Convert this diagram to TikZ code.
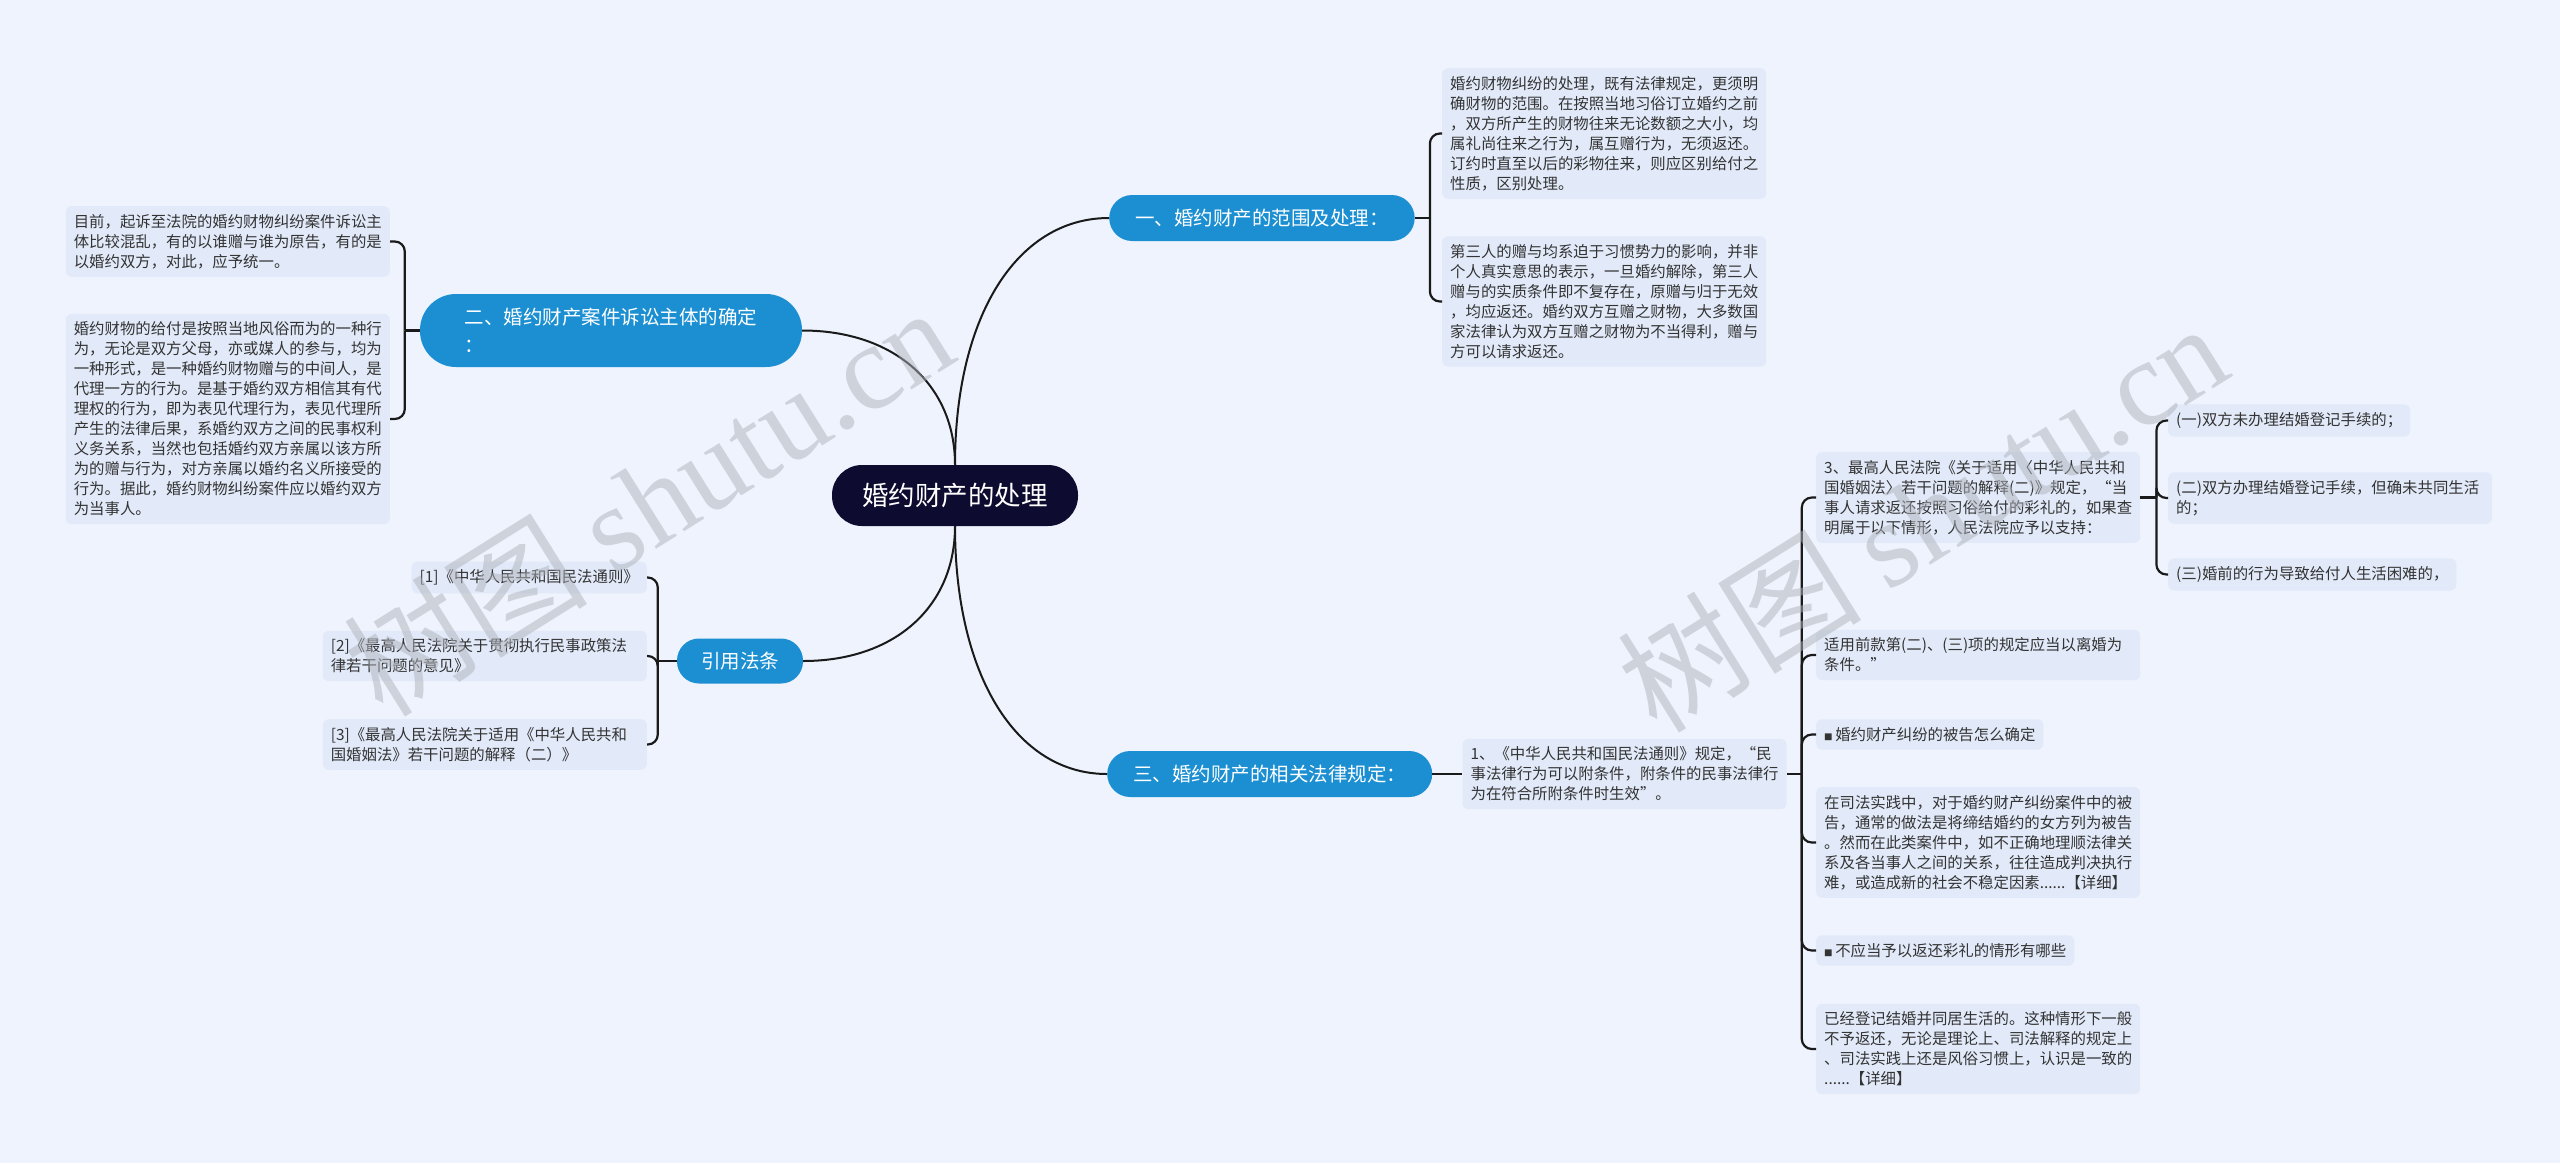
\documentclass[tikz,border=0pt]{standalone}
\usepackage{fontspec}
\setmainfont{Noto Sans CJK SC}
\newfontfamily\marklatin{Liberation Serif}
\usetikzlibrary{positioning,calc}
\definecolor{PageBlue}{HTML}{EEF3FD}
\definecolor{LeafFill}{HTML}{E2EAF9}
\definecolor{BranchBlue}{HTML}{1B8FD2}
\definecolor{RootNavy}{HTML}{0D0B2F}
\definecolor{LeafText}{HTML}{333333}
\definecolor{LinkBlack}{HTML}{1A1A1A}
\definecolor{MarkGrey}{HTML}{AEB2BA}

\tikzset{
  rootnode/.style={fill=RootNavy,text=white,rounded corners=30pt,minimum width=246pt,minimum height=61pt,font=\fontsize{26.5}{30}\selectfont},
  branchnode/.style={fill=BranchBlue,text=white,rounded corners=23pt,minimum height=46pt,inner xsep=26pt,font=\fontsize{19.5}{28}\selectfont},
  leafnode/.style={fill=LeafFill,text=LeafText,rounded corners=6pt,inner xsep=8pt,inner ysep=8pt,align=left,font=\fontsize{15.4}{20}\selectfont},
  wrapleaf/.style={leafnode,text width=308pt},
  linkline/.style={LinkBlack,line width=2.2pt},
  bracket/.style={linkline,rounded corners=10pt},
  rootlink/.style={LinkBlack,line width=2pt},
  watermark/.style={text=MarkGrey,opacity=0.5,rotate=32,font=\fontsize{122}{122}\selectfont},
}
\newcommand{\sqmark}{{\fontsize{8.5}{8.5}\selectfont ■}\,}

\begin{document}
\begin{tikzpicture}[x=1pt,y=-1pt]
  \path[use as bounding box,fill=PageBlue] (0,0) rectangle (2560,1163);

  % centre and main branches
  \node[rootnode] (root) at (955,495.5) {婚约财产的处理};
  \node[branchnode,anchor=west] (b1) at (1109,218) {一、婚约财产的范围及处理：};
  \node[branchnode,align=left,minimum width=382pt,minimum height=73pt,rounded corners=36pt] (b2) at (611,330.5) {二、婚约财产案件诉讼主体的确定\\：};
  \node[branchnode,minimum width=126pt,minimum height=45pt,rounded corners=22pt,inner xsep=10pt] (b3) at (740,661) {引用法条};
  \node[branchnode,anchor=west] (b4) at (1107,774) {三、婚约财产的相关法律规定：};

  \draw[rootlink] (root.north) .. controls ($(root.north)!0.6!(root.north |- b1.west)$) and ($(b1.west)!0.6!(b1.west -| root.north)$) .. (b1.west);
  \draw[rootlink] (root.north) .. controls ($(root.north)!0.6!(root.north |- b2.east)$) and ($(b2.east)!0.6!(b2.east -| root.north)$) .. (b2.east);
  \draw[rootlink] (root.south) .. controls ($(root.south)!0.6!(root.south |- b3.east)$) and ($(b3.east)!0.6!(b3.east -| root.south)$) .. (b3.east);
  \draw[rootlink] (root.south) .. controls ($(root.south)!0.6!(root.south |- b4.west)$) and ($(b4.west)!0.6!(b4.west -| root.south)$) .. (b4.west);

  % branch one
  \node[wrapleaf,anchor=west] (l11) at (1442,133.5) {婚约财物纠纷的处理，既有法律规定，更须明\\确财物的范围。在按照当地习俗订立婚约之前\\，双方所产生的财物往来无论数额之大小，均\\属礼尚往来之行为，属互赠行为，无须返还。\\订约时直至以后的彩物往来，则应区别给付之\\性质，区别处理。};
  \node[wrapleaf,anchor=west] (l12) at (1442,301.5) {第三人的赠与均系迫于习惯势力的影响，并非\\个人真实意思的表示，一旦婚约解除，第三人\\赠与的实质条件即不复存在，原赠与归于无效\\，均应返还。婚约双方互赠之财物，大多数国\\家法律认为双方互赠之财物为不当得利，赠与\\方可以请求返还。};
  \coordinate (j1) at ($(b1.east)+(15,0)$);
  \draw[linkline] (b1.east) -- (j1);
  \foreach \c in {l11,l12} \draw[bracket] (j1) |- (\c.west);

  % branch two
  \node[wrapleaf,anchor=east] (l21) at (390,241.5) {目前，起诉至法院的婚约财物纠纷案件诉讼主\\体比较混乱，有的以谁赠与谁为原告，有的是\\以婚约双方，对此，应予统一。};
  \node[wrapleaf,anchor=east] (l22) at (390,419) {婚约财物的给付是按照当地风俗而为的一种行\\为，无论是双方父母，亦或媒人的参与，均为\\一种形式，是一种婚约财物赠与的中间人，是\\代理一方的行为。是基于婚约双方相信其有代\\理权的行为，即为表见代理行为，表见代理所\\产生的法律后果，系婚约双方之间的民事权利\\义务关系，当然也包括婚约双方亲属以该方所\\为的赠与行为，对方亲属以婚约名义所接受的\\行为。据此，婚约财物纠纷案件应以婚约双方\\为当事人。};
  \coordinate (j2) at ($(b2.west)+(-15,0)$);
  \draw[linkline] (b2.west) -- (j2);
  \foreach \c in {l21,l22} \draw[bracket] (j2) |- (\c.east);

  % cited laws
  \node[leafnode,anchor=east] (l31) at (647,577.5) {[1]《中华人民共和国民法通则》};
  \node[wrapleaf,anchor=east] (l32) at (647,656) {[2]《最高人民法院关于贯彻执行民事政策法\\律若干问题的意见》};
  \node[wrapleaf,anchor=east] (l33) at (647,744.5) {[3]《最高人民法院关于适用《中华人民共和\\国婚姻法》若干问题的解释（二）》};
  \coordinate (j3) at ($(b3.west)+(-19,0)$);
  \draw[linkline] (b3.west) -- (j3);
  \foreach \c in {l31,l32,l33} \draw[bracket] (j3) |- (\c.east);

  % branch three
  \node[wrapleaf,right=30pt of b4] (l41) {1、《中华人民共和国民法通则》规定，“民\\事法律行为可以附条件，附条件的民事法律行\\为在符合所附条件时生效”。};
  \draw[linkline] (b4.east) -- (l41.west);

  \node[wrapleaf,anchor=west] (m1) at (1816,497.5) {3、最高人民法院《关于适用〈中华人民共和\\国婚姻法〉若干问题的解释(二)》规定，“当\\事人请求返还按照习俗给付的彩礼的，如果查\\明属于以下情形，人民法院应予以支持：};
  \node[wrapleaf,anchor=west] (m2) at (1816,655) {适用前款第(二)、(三)项的规定应当以离婚为\\条件。”};
  \node[leafnode,anchor=west] (m3) at (1816,734.5) {\sqmark 婚约财产纠纷的被告怎么确定};
  \node[wrapleaf,anchor=west] (m4) at (1816,842.5) {在司法实践中，对于婚约财产纠纷案件中的被\\告，通常的做法是将缔结婚约的女方列为被告\\。然而在此类案件中，如不正确地理顺法律关\\系及各当事人之间的关系，往往造成判决执行\\难，或造成新的社会不稳定因素......【详细】};
  \node[leafnode,anchor=west] (m5) at (1816,950.5) {\sqmark 不应当予以返还彩礼的情形有哪些};
  \node[wrapleaf,anchor=west] (m6) at (1816,1049) {已经登记结婚并同居生活的。这种情形下一般\\不予返还，无论是理论上、司法解释的规定上\\、司法实践上还是风俗习惯上，认识是一致的\\......【详细】};
  \coordinate (j5) at ($(l41.east)+(15,0)$);
  \draw[linkline] (l41.east) -- (j5);
  \foreach \c in {m1,m2,m3,m4,m5,m6} \draw[bracket] (j5) |- (\c.west);

  \node[leafnode,anchor=west] (n1) at (2168,420.5) {(一)双方未办理结婚登记手续的；};
  \node[wrapleaf,anchor=west] (n2) at (2168,498) {(二)双方办理结婚登记手续，但确未共同生活\\的；};
  \node[leafnode,anchor=west] (n3) at (2168,574.5) {(三)婚前的行为导致给付人生活困难的，};
  \coordinate (j6) at ($(m1.east)+(16,0)$);
  \draw[linkline] (m1.east) -- (j6);
  \foreach \c in {n1,n2,n3} \draw[bracket] (j6) |- (\c.west);

  % watermarks
  \node[watermark] (wm1) at (648,500) {树图 {\marklatin shutu.cn}};
  \node[watermark] (wm2) at (1922,516) {树图 {\marklatin shutu.cn}};
\end{tikzpicture}
\end{document}
